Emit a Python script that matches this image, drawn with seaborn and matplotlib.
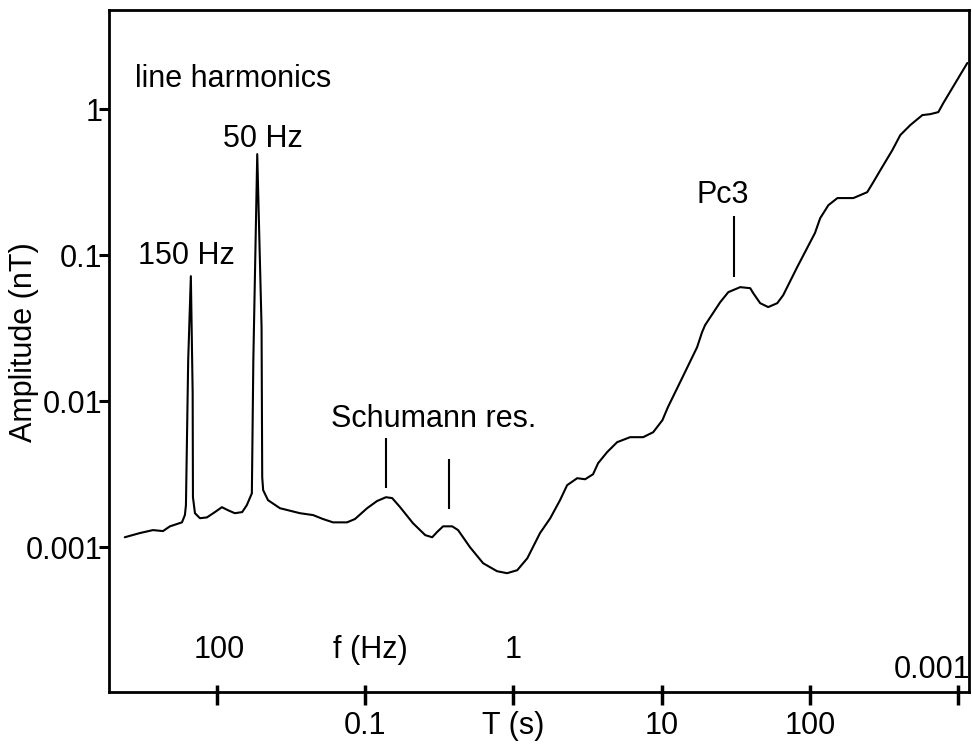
import matplotlib
matplotlib.use("Agg")
import matplotlib.pyplot as plt
from matplotlib.ticker import NullFormatter, NullLocator
import matplotlib.transforms as mtransforms
import seaborn as sns
import pandas as pd

# ---- data ----
period_s = [0.00239, 0.00302, 0.00370, 0.00433, 0.00482, 0.00581, 0.00608, 0.00618,
            0.00640, 0.00667, 0.00686, 0.00689, 0.00711, 0.00768, 0.00856, 0.00969,
            0.0108, 0.0119, 0.0132, 0.0148, 0.0159, 0.0172, 0.0176, 0.0187, 0.0200,
            0.0202, 0.0205, 0.0221, 0.0266, 0.0363, 0.0445, 0.0519, 0.0607, 0.0754,
            0.0853, 0.103, 0.120, 0.138, 0.152, 0.172, 0.210, 0.254, 0.283, 0.305,
            0.335, 0.386, 0.423, 0.509, 0.624, 0.775, 0.905, 1.06, 1.24, 1.51, 1.77,
            2.06, 2.30, 2.69, 3.04, 3.44, 3.72, 4.28, 5.00, 6.12, 7.49, 8.75, 10.1,
            11.0, 13.3, 17.3, 18.7, 19.6, 24.8, 28.1, 33.8, 39.5, 41.4, 46.1, 52.2,
            60.1, 65.9, 81.9, 108, 117, 133, 153, 196, 243, 267, 298, 359, 406, 474,
            572, 647, 733, 792, 1150]
amplitude_nT = [0.00117, 0.00125, 0.00131, 0.00129, 0.00139, 0.00148, 0.00166, 0.00194,
                0.0191, 0.0718, 0.0114, 0.00220, 0.00171, 0.00158, 0.00160, 0.00174,
                0.00188, 0.00179, 0.00171, 0.00174, 0.00194, 0.00234, 0.0191, 0.492, 0.0321,
                0.00302, 0.00246, 0.00210, 0.00185, 0.00171, 0.00166, 0.00156, 0.00148, 0.00148,
                0.00156, 0.00185, 0.00207, 0.00220, 0.00217, 0.00188, 0.00146, 0.00121, 0.00117, 0.00127,
                0.00139, 0.00139, 0.00131, 0.00100, 0.000777, 0.000685, 0.000664, 0.000696, 0.000841, 0.00125, 0.00158,
                0.00210, 0.00266, 0.00297, 0.00292, 0.00316, 0.00376, 0.00448, 0.00524, 0.00567, 0.00567, 0.00613, 0.00741,
                0.00910, 0.0135, 0.0234, 0.0297, 0.0332, 0.0477, 0.0558, 0.0604, 0.0594, 0.0549, 0.0469, 0.0441,
                0.0469, 0.0532, 0.0828, 0.142, 0.179, 0.220, 0.246, 0.246, 0.270, 0.316, 0.382, 0.524, 0.664, 0.777,
                0.910, 0.924, 0.954, 1.10, 2.07]

# period-axis ticks
x_tick_values = [0.01, 0.1, 1, 10, 100, 1000]
x_tick_labels = ["", "0.1", "T (s)", "10", "100", ""]
y_tick_values = [0.001, 0.01, 0.1, 1]
y_tick_labels = ["0.001", "0.01", "0.1", "1"]

# frequency labels drawn inside the frame
freq_labels = ["100", "f (Hz)", "1"]
freq_label_T = [0.0103, 0.108, 0.994]
freq_label_A = 1.74e-4
freq_end_label = "0.001"

# feature annotations
feature_texts = ["line harmonics", "50 Hz", "150 Hz", "Schumann res.", "Pc3"]
feature_T = [0.0028, 0.0204, 0.00627, 0.291, 25.6]
feature_A = [1.415, 0.552, 0.0868, 0.00667, 0.226]
feature_ha = ["left", "center", "center", "center", "center"]

marker_T = [0.138, 0.3675, 30.8]
marker_top = [0.00558, 0.00401, 0.185]
marker_bottom = [0.00254, 0.00182, 0.0707]

x_limits = (0.00187, 1180)
y_limits = (1.02e-4, 4.77)

# ---- styling ----
sns.set_style("white")
plt.rcParams["font.family"] = ["Liberation Sans", "DejaVu Sans"]
plt.rcParams["text.color"] = "black"
plt.rcParams["axes.labelcolor"] = "black"
plt.rcParams["xtick.color"] = "black"
plt.rcParams["ytick.color"] = "black"
FS = 22

fig = plt.figure(figsize=(9.72, 7.49), dpi=100)
ax = fig.add_axes([0.1121, 0.0761, 0.8848, 0.9105])

df = pd.DataFrame({"T": period_s, "A": amplitude_nT})
sns.lineplot(data=df, x="T", y="A", sort=False, estimator=None, color="black",
             linewidth=1.5, ax=ax)

ax.set_xscale("log")
ax.set_yscale("log")
ax.set_xlim(*x_limits)
ax.set_ylim(*y_limits)

ax.set_xticks(x_tick_values, x_tick_labels)
ax.set_xticks(x_tick_values, minor=True)
ax.xaxis.set_minor_formatter(NullFormatter())
ax.xaxis.remove_overlapping_locs = False
ax.set_yticks(y_tick_values, y_tick_labels)
ax.yaxis.set_minor_locator(NullLocator())

ax.tick_params(axis="x", which="major", direction="out", length=9.4, width=2.5,
               pad=4.3, labelsize=FS, bottom=True)
ax.tick_params(axis="x", which="minor", direction="in", length=5, width=2.5, bottom=True)
ax.tick_params(axis="y", which="major", direction="out", length=7.2, width=2.2,
               pad=-2.5, labelsize=FS, left=True)

for s in ax.spines.values():
    s.set_visible(True)
    s.set_linewidth(2)
    s.set_color("black")
    s.set_zorder(5)

ax.set_xlabel("")
ax.set_ylabel("Amplitude (nT)", fontsize=FS, color="black")
ax.yaxis.set_label_coords(-0.0814, 0.513)

for txt, t in zip(freq_labels, freq_label_T):
    ax.text(t, freq_label_A, txt, ha="center", va="baseline", fontsize=FS)
ax.text(1.002, 1.27e-4, freq_end_label, ha="right", va="baseline", fontsize=FS,
        transform=mtransforms.blended_transform_factory(ax.transAxes, ax.transData),
        zorder=1, clip_on=False)

for txt, t, a, ha in zip(feature_texts, feature_T, feature_A, feature_ha):
    ax.text(t, a, txt, ha=ha, va="baseline", fontsize=FS)

ax.vlines(marker_T, marker_bottom, marker_top, color="black", linewidth=1.5)

fig.savefig("out.png", dpi=100)
